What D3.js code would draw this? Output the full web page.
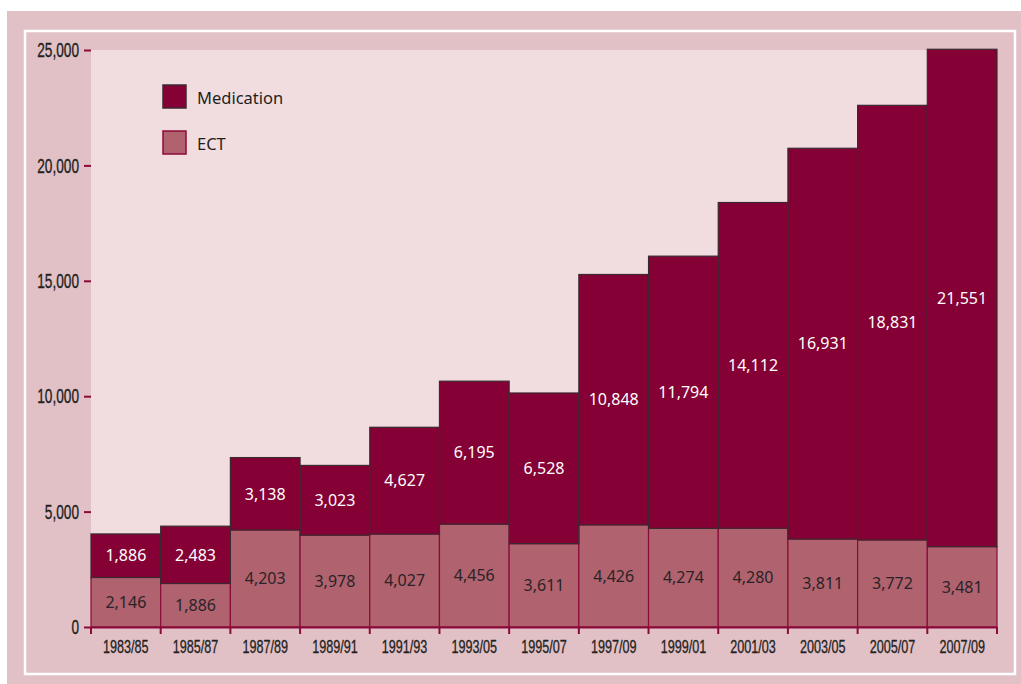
<!DOCTYPE html>
<html>
<head>
<meta charset="utf-8">
<script src="https://cdn.jsdelivr.net/npm/d3@7"></script>
<style>
  html, body { margin: 0; padding: 0; background: #ffffff; }
  svg { display: block; }
</style>
</head>
<body>
<script>
// Periods and stacked series
const periods = ["1983/85","1985/87","1987/89","1989/91","1991/93","1993/05","1995/07","1997/09","1999/01","2001/03","2003/05","2005/07","2007/09"];
const ect        = [2146, 1886, 4203, 3978, 4027, 4456, 3611, 4426, 4274, 4280, 3811, 3772, 3481];
const medication = [1886, 2483, 3138, 3023, 4627, 6195, 6528, 10848, 11794, 14112, 16931, 18831, 21551];
const yTicks = [0, 5000, 10000, 15000, 20000, 25000];
const seriesNames = ["Medication", "ECT"];

const W = 1021, H = 684;
const colors = { Medication: "#850034", ECT: "#b0626f" };
const strokes = { Medication: "#3b2a30", ECT: "#8a0b3a" };
const axisFont = "'Liberation Sans', Arial, sans-serif";
const bodyFont = "'Noto Sans', 'Open Sans', sans-serif";
const squeezeY = 0.65; // horizontal compression for the condensed axis lettering
const squeezeX = 0.70;

const svg = d3.select("body").append("svg").attr("width", W).attr("height", H);

// Frame panels
svg.append("rect").attr("x", 7).attr("y", 11).attr("width", W - 7).attr("height", H - 11).attr("fill", "#e1c1c6");
svg.append("rect").attr("x", 25).attr("y", 31).attr("width", 990).attr("height", 643)
  .attr("fill", "none").attr("stroke", "#ffffff").attr("stroke-width", 2.5);

const plot = { left: 91, right: 997, top: 50, bottom: 627 };

const x = d3.scaleBand().domain(periods).range([plot.left, plot.right]).padding(0);
const y = d3.scaleLinear().domain([0, 25000]).range([plot.bottom, plot.top]);

svg.append("rect").attr("x", plot.left).attr("y", plot.top)
  .attr("width", plot.right - plot.left).attr("height", plot.bottom - plot.top)
  .attr("fill", "#f1dde0");

// Stack the data
const rows = periods.map((p, i) => ({ period: p, ECT: ect[i], Medication: medication[i] }));
const stacked = d3.stack().keys(["ECT", "Medication"])(rows);

stacked.forEach(layer => {
  const key = layer.key;
  svg.append("g").selectAll("rect").data(layer).join("rect")
    .attr("x", d => x(d.data.period))
    .attr("y", d => y(d[1]))
    .attr("width", x.bandwidth())
    .attr("height", d => y(d[0]) - y(d[1]))
    .attr("fill", colors[key])
    .attr("stroke", strokes[key])
    .attr("stroke-width", 1.2);
});

// Value labels centred in each segment
stacked.forEach(layer => {
  const key = layer.key;
  svg.append("g").selectAll("text").data(layer).join("text")
    .attr("x", d => x(d.data.period) + x.bandwidth() / 2)
    .attr("y", d => (y(d[0]) + y(d[1])) / 2)
    .attr("dy", "0.36em")
    .attr("text-anchor", "middle")
    .attr("font-family", bodyFont)
    .attr("font-size", 16)
    .attr("fill", key === "ECT" ? "#2a2226" : "#ffffff")
    .text(d => d3.format(",")(d.data[key]));
});

// Y axis (ticks only)
const yAxis = svg.append("g").attr("transform", `translate(${plot.left},0)`)
  .call(d3.axisLeft(y).tickValues(yTicks).tickSize(7).tickPadding(4).tickFormat(d3.format(",")));
yAxis.select(".domain").remove();
yAxis.selectAll(".tick line").attr("stroke", "#8a0b3a").attr("stroke-width", 2);
yAxis.selectAll(".tick text")
  .attr("font-family", axisFont).attr("font-size", 21).attr("fill", "#231f20")
  .attr("stroke", "#231f20").attr("stroke-width", 0.35)
  .attr("x", -12 / squeezeY)
  .attr("transform", `scale(${squeezeY},1)`);

// X axis
const xAxis = svg.append("g").attr("transform", `translate(0,${plot.bottom})`)
  .call(d3.axisBottom(x).tickSize(0).tickPadding(13));
xAxis.select(".domain").attr("stroke", "#8a0b3a").attr("stroke-width", 2);
xAxis.selectAll(".tick").each(function () {
  const t = d3.select(this);
  const tx = +t.attr("transform").match(/translate\(([-\d.]+)/)[1];
  t.attr("transform", `translate(${tx},0) scale(${squeezeX},1)`);
});
xAxis.selectAll(".tick text")
  .attr("font-family", axisFont).attr("font-size", 18).attr("fill", "#231f20")
  .attr("stroke", "#231f20").attr("stroke-width", 0.3);
// boundary ticks between bars
const bounds = periods.map(p => x(p)).concat([x(periods[periods.length - 1]) + x.bandwidth()]);
xAxis.append("g").selectAll("line").data(bounds).join("line")
  .attr("x1", d => d).attr("x2", d => d).attr("y1", 0).attr("y2", 7)
  .attr("stroke", "#8a0b3a").attr("stroke-width", 2);

// Legend
const legend = svg.append("g");
seriesNames.forEach((name, i) => {
  const ly = 85 + i * 46;
  legend.append("rect").attr("x", 163).attr("y", ly).attr("width", 23).attr("height", 23)
    .attr("fill", colors[name]).attr("stroke", strokes[name]).attr("stroke-width", 1.5);
  legend.append("text").attr("x", 197).attr("y", ly + 13).attr("dy", "0.36em")
    .attr("font-family", bodyFont).attr("font-size", 16.5).attr("fill", "#231f20").text(name);
});
</script>
</body>
</html>
